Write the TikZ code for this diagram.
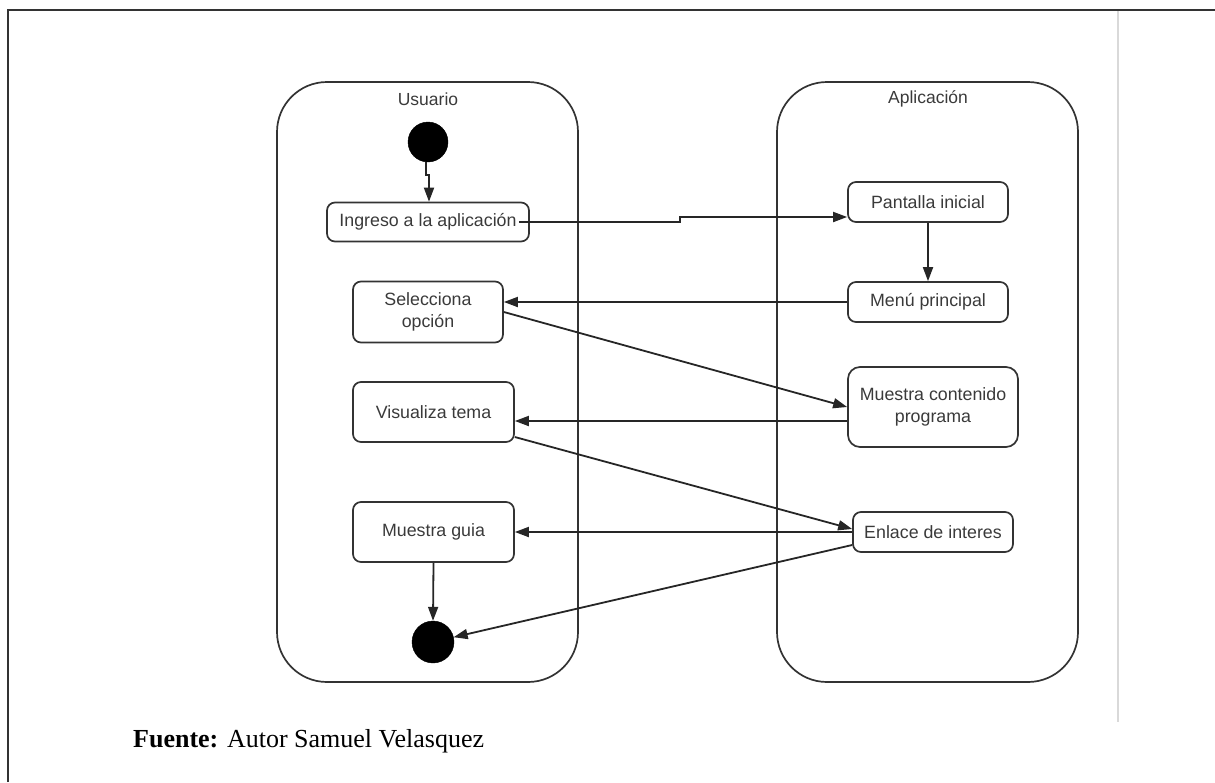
\documentclass[tikz,border=0pt]{standalone}
\usepackage{fontspec}
\setmainfont{Liberation Serif}
\newfontfamily\diagfont{Liberation Sans}
\usetikzlibrary{arrows.meta}
\definecolor{ink}{HTML}{333333}
\definecolor{txt}{HTML}{3A3A3A}
\begin{document}
\begin{tikzpicture}[x=1pt,y=-1pt,
  lane/.style={draw=ink, line width=1.7pt, rounded corners=50pt, inner sep=0pt},
  lanetitle/.style={font=\diagfont\fontsize{17.5}{20}\selectfont, text=txt, inner sep=0pt},
  act/.style={draw=ink, line width=1.7pt, rounded corners=8pt, align=center,
    font=\diagfont\fontsize{17.8}{22}\selectfont, text=txt, inner sep=0pt},
  dot/.style={circle, fill=black, draw=black, inner sep=0pt},
  flow/.style={draw=black!85, line width=1.8pt, -{Triangle[length=14pt,width=10pt]}},
]
\useasboundingbox (0,0) rectangle (1215,782);

% page frame
\draw[line width=1.6pt, black!80] (8,782) -- (8,10) -- (1215,10);
\draw[line width=1.5pt, black!15] (1118,11) -- (1118,722);

% swimlanes
\node[lane, minimum width=301pt, minimum height=600pt] (usuario) at (427.5,382) {};
\node[lane, minimum width=301pt, minimum height=600pt] (aplicacion) at (927.5,382) {};
\node[lanetitle] (tusuario) at (428,99) {Usuario};
\node[lanetitle] (taplicacion) at (928,99) {Aplicación};

% user activities
\node[dot, minimum size=40pt] (start) at (428,142) {};
\node[act, minimum width=202pt, minimum height=39pt] (ingreso) at (428,222) {Ingreso a la aplicación};
\node[act, minimum width=150pt, minimum height=61pt] (selecciona) at (428,312) {Selecciona\\opción};
\node[act, minimum width=161pt, minimum height=60pt] (visualiza) at (433.5,412) {Visualiza tema};
\node[act, minimum width=161pt, minimum height=60pt] (guia) at (433.5,532) {Muestra guia};
\node[dot, minimum size=42pt] (finish) at (433,642) {};

% application activities
\node[act, minimum width=160pt, minimum height=40pt] (pantalla) at (928,202) {Pantalla inicial};
\node[act, minimum width=160pt, minimum height=40pt] (menu) at (928,302) {Menú principal};
\node[act, minimum width=170pt, minimum height=80pt, rounded corners=12pt] (contenido) at (933,407) {Muestra contenido\\programa};
\node[act, minimum width=160pt, minimum height=40pt] (enlace) at (933,532) {Enlace de interes};

% helper levels for horizontal runs
\coordinate (j1) at (680,222);
\coordinate (j2) at (680,217);
\coordinate (y5) at (0,421);
\coordinate (y6) at (0,437);
\coordinate (y8) at (0,545);

% transitions
\draw[flow] ([xshift=-2pt]start.south) -- ++(0,13) -- ++(3,0) -- ([xshift=1pt]ingreso.north);
\draw[flow] ([xshift=-11pt]ingreso.east) -- (j1) -- (j2) -- (pantalla.west |- j2);
\draw[flow] (pantalla.south) -- (menu.north);
\draw[flow] (menu.west) -- (selecciona.east |- menu.west);
\draw[flow] (selecciona.east) -- (contenido.west);
\draw[flow] (contenido.west |- y5) -- (visualiza.east |- y5);
\draw[flow] (visualiza.east |- y6) -- ([yshift=3pt]enlace.west);
\draw[flow] (enlace.west) -- (guia.east |- enlace.west);
\draw[flow] (enlace.west |- y8) -- (finish);
\draw[flow] (guia.south) -- (finish.north);

% source note
\node[anchor=west, inner sep=0pt, font=\fontsize{26}{30}\selectfont] (fuente) at (133,741) {\textbf{Fuente:} Autor Samuel Velasquez};
\end{tikzpicture}
\end{document}
